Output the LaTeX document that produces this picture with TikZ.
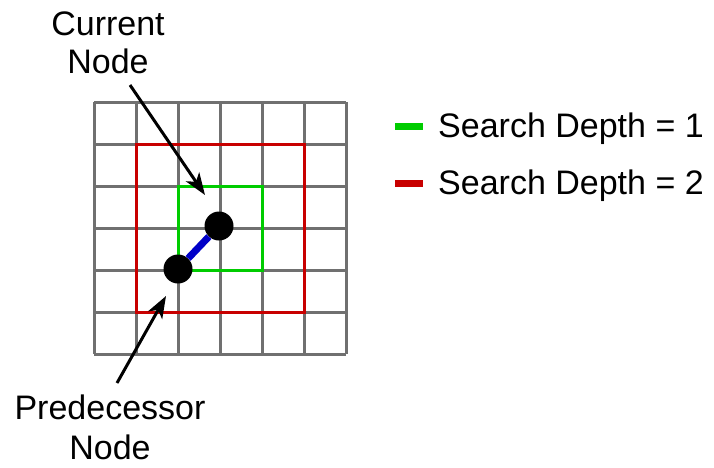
\documentclass[tikz,border=0pt]{standalone}
\usepackage{fontspec}
\setmainfont{Liberation Sans}
\usetikzlibrary{arrows.meta}
\definecolor{gridgray}{RGB}{112,112,112}
\definecolor{dred}{RGB}{200,0,0}
\definecolor{lgreen}{RGB}{0,204,0}
\definecolor{dblue}{RGB}{0,0,200}
\begin{document}
\begin{tikzpicture}[x=1pt,y=-1pt,
  gridline/.style={draw=gridgray,line width=3pt},
  label/.style={font=\fontsize{34}{40}\selectfont,align=center,inner sep=0pt},
  dot/.style={circle,fill=black,minimum size=29pt,inner sep=0pt},
  pointer/.style={draw=black,line width=3pt,-{Stealth[length=22pt,width=16pt,inset=6pt]}},
  legline/.style={line width=7pt}]
\useasboundingbox (0,0) rectangle (714,467);
% grid
\foreach \i in {0,...,6}{
  \draw[gridline] (94+42*\i,102) -- (94+42*\i,354);
  \draw[gridline] (94,102+42*\i) -- (346,102+42*\i);
}
\draw[draw=dred,line width=3pt] (136,144) rectangle (304,312);
\draw[draw=lgreen,line width=3pt] (178,186) rectangle (262,270);
% nodes
\node[dot] (cur) at (219,226) {};
\node[dot] (pred) at (178,269) {};
\draw[draw=dblue,line width=7pt] (pred) -- (cur);
% labels
\node[label] (curlab) at (108,43) {Current\\[-2pt]Node};
\node[label] (predlab) at (110,427) {Predecessor\\Node};
\coordinate (curtip) at (205,195);
\coordinate (predtip) at (166,296);
\coordinate (curtail) at (130,85);
\coordinate (predtail) at (117,383);
\draw[pointer] (curtail) -- (curtip);
\draw[pointer] (predtail) -- (predtip);
% legend
\coordinate (g1) at (395,126);
\coordinate (g2) at (423,126);
\coordinate (r1) at (395,183);
\coordinate (r2) at (423,183);
\draw[legline,lgreen] (g1) -- (g2);
\draw[legline,dred] (r1) -- (r2);
\node[label,anchor=base west] (leg1) at (438,137) {Search Depth = 1};
\node[label,anchor=base west] (leg2) at (438,194) {Search Depth = 2};
\end{tikzpicture}
\end{document}
